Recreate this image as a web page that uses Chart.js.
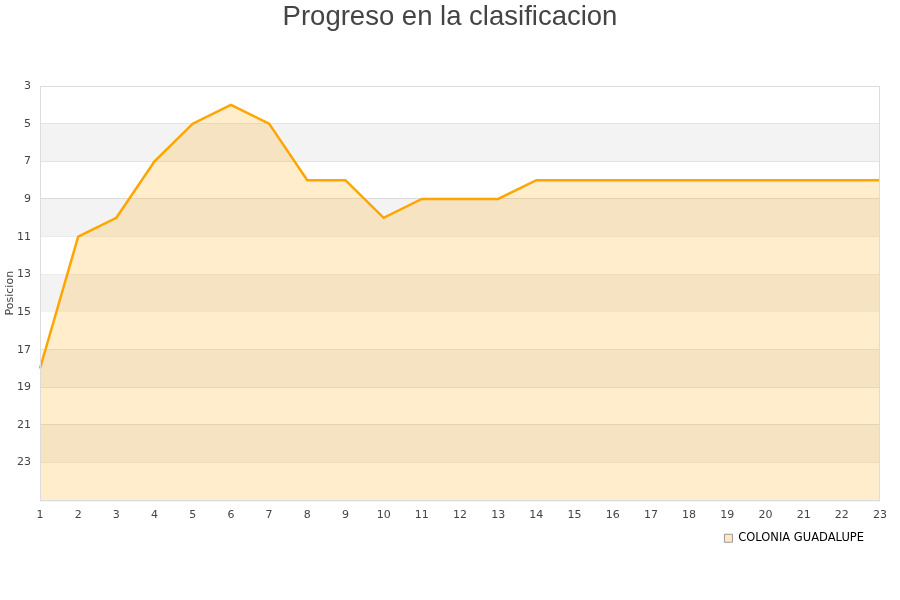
<!DOCTYPE html>
<html>
<head>
<meta charset="utf-8">
<script src="https://cdn.jsdelivr.net/npm/chart.js@4"></script>
<style>
  html, body { margin: 0; padding: 0; background: #fff; }
  #wrap { width: 900px; height: 600px; }
</style>
</head>
<body>
<div id="wrap"><canvas id="posChart" width="900" height="600"></canvas></div>
<script>
const jornadas = ['1','2','3','4','5','6','7','8','9','10','11','12','13','14','15','16','17','18','19','20','21','22','23'];
const posiciones = [18, 11, 10, 7, 5, 4, 5, 8, 8, 10, 9, 9, 9, 8, 8, 8, 8, 8, 8, 8, 8, 8, 8];
const teamName = 'COLONIA GUADALUPE';
const yMin = 3;
const yMax = 25;
const yStep = 2;

// alternating background bands + frame around the plot area
const bandsPlugin = {
    id: 'bands',
    afterLayout(chart) {
        // title is centred on the whole canvas, legend sits a bit in from the right
        if (chart.titleBlock) {
            chart.titleBlock.left += 10;
            chart.titleBlock.right += 10;
        }
        if (chart.legend) {
            chart.legend.left -= 13;
            chart.legend.right -= 13;
        }
    },
    beforeDatasetsDraw(chart) {
        const { ctx, chartArea, scales } = chart;
        const y = scales.y;
        ctx.save();
        let i = 0;
        for (let v = yMin; v < yMax; v += yStep) {
            if (i % 2 === 1) {
                const y1 = y.getPixelForValue(v);
                const y2 = y.getPixelForValue(v + yStep);
                ctx.fillStyle = '#f3f3f3';
                ctx.fillRect(chartArea.left, y1, chartArea.right - chartArea.left, y2 - y1);
            }
            i++;
        }
        ctx.restore();
    },
    afterDraw(chart) {
        const { ctx, chartArea } = chart;
        ctx.save();
        ctx.strokeStyle = '#dcdcdc';
        ctx.lineWidth = 1;
        ctx.strokeRect(chartArea.left + 0.5, chartArea.top + 0.5,
            chartArea.right - chartArea.left - 1, chartArea.bottom - chartArea.top);
        ctx.restore();
    }
};

const ctx = document.getElementById('posChart').getContext('2d');
const posChart = new Chart(ctx, {
    type: 'line',
    data: {
        labels: jornadas,
        datasets: [{
            label: teamName,
            data: posiciones,
            borderColor: '#ffa500',
            backgroundColor: 'rgba(255, 165, 0, 0.2)',
            borderWidth: 2.5,
            pointRadius: 0,
            tension: 0,
            fill: 'start'
        }]
    },
    options: {
        responsive: false,
        animation: false,
        layout: {
            padding: { left: 0, right: 20, top: 0, bottom: 46 }
        },
        plugins: {
            title: {
                display: true,
                text: 'Progreso en la clasificacion',
                color: '#444',
                font: { family: 'Liberation Sans', size: 27.5, weight: 'normal' },
                padding: { top: 1, bottom: 52 }
            },
            legend: {
                position: 'bottom',
                align: 'end',
                labels: {
                    boxWidth: 8,
                    boxHeight: 8,
                    padding: 3,
                    color: '#111',
                    font: { family: 'DejaVu Sans', size: 11.5 },
                    generateLabels: () => [{
                        text: teamName,
                        fillStyle: '#ffe9c4',
                        strokeStyle: '#999',
                        lineWidth: 1,
                        datasetIndex: 0
                    }]
                }
            },
            tooltip: { enabled: false }
        },
        scales: {
            x: {
                offset: false,
                grid: { display: false, drawTicks: false },
                border: { display: false },
                ticks: {
                    color: '#444',
                    font: { family: 'DejaVu Sans', size: 11 },
                    maxRotation: 0,
                    autoSkip: false,
                    padding: 8
                }
            },
            y: {
                reverse: true,
                min: yMin,
                max: yMax,
                afterFit: scale => { scale.width = 40; },
                title: {
                    display: true,
                    text: 'Posicion',
                    color: '#444',
                    font: { family: 'DejaVu Sans', size: 11 },
                    padding: { top: 4, bottom: 0 }
                },
                grid: { color: '#dcdcdc', drawTicks: false },
                border: { display: false },
                ticks: {
                    stepSize: yStep,
                    color: '#444',
                    font: { family: 'DejaVu Sans', size: 11 },
                    padding: 9,
                    callback: v => (v === yMax ? '' : v)
                }
            }
        }
    },
    plugins: [bandsPlugin]
});
</script>
</body>
</html>
